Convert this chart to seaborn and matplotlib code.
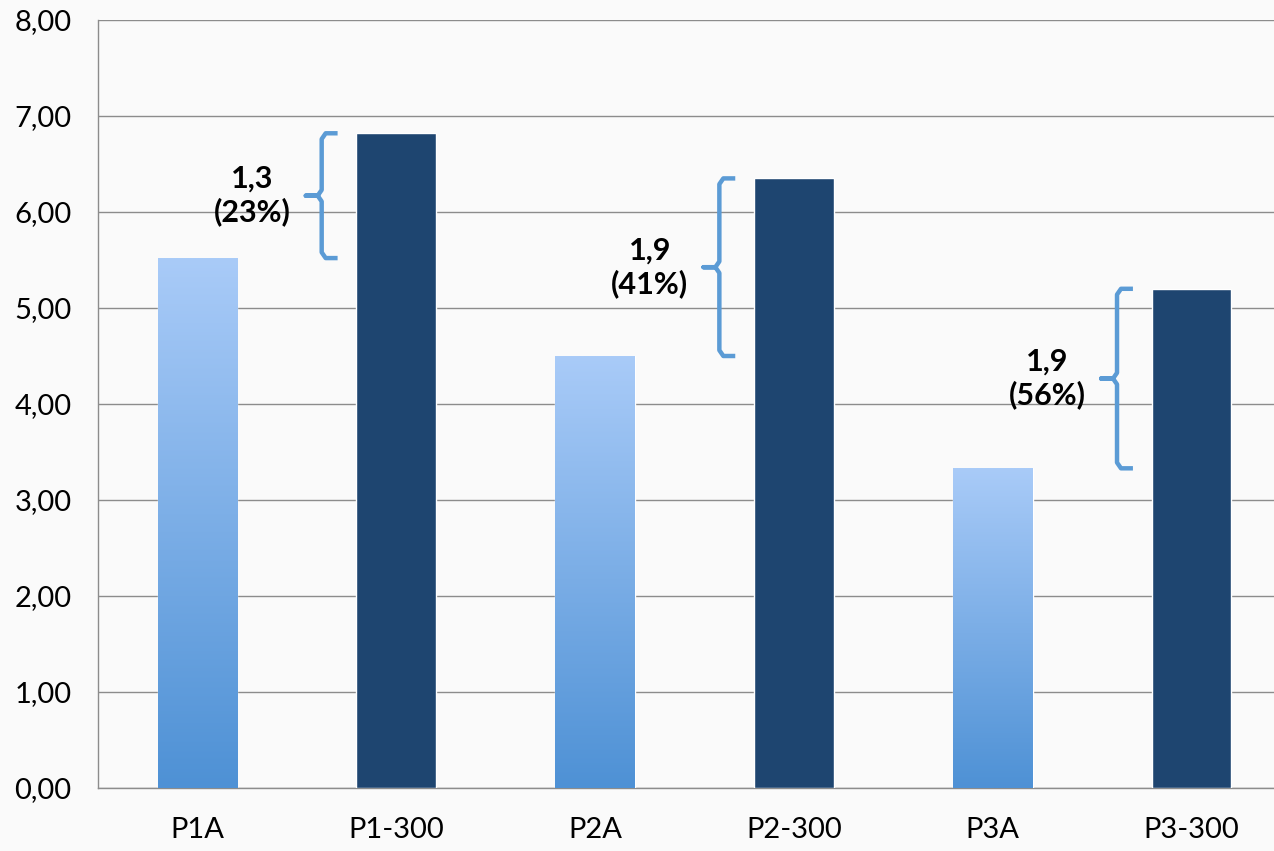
import numpy as np
import pandas as pd
import matplotlib
matplotlib.use("Agg")
import matplotlib.pyplot as plt
from matplotlib.colors import LinearSegmentedColormap
import seaborn as sns

# values
categories = ["P1A", "P1-300", "P2A", "P2-300", "P3A", "P3-300"]
values = [5.52, 6.82, 4.50, 6.35, 3.33, 5.20]
diff_labels = ["1,3\n(23%)", "1,9\n(41%)", "1,9\n(56%)"]
yticks = [0, 1, 2, 3, 4, 5, 6, 7, 8]
ytick_labels = ["0,00", "1,00", "2,00", "3,00", "4,00", "5,00", "6,00", "7,00", "8,00"]

bg = "#fafafa"
dark = "#1e4570"
grid_col = "#8c8c8c"
brace_col = "#5b9bd5"

sns.set_style("white")
plt.rcParams["font.family"] = ["Lato", "DejaVu Sans"]
plt.rcParams["text.color"] = "black"

fig = plt.figure(figsize=(12.74, 8.51), dpi=100, facecolor=bg)
ax = fig.add_axes([98 / 1274, 63 / 851, 1193 / 1274, 768 / 851])
ax.set_facecolor(bg)

df = pd.DataFrame({"cat": categories, "val": values})
palette = ["#7fb0e8" if i % 2 == 0 else dark for i in range(len(categories))]
sns.barplot(data=df, x="cat", y="val", hue="cat", palette=palette,
            width=0.4, legend=False, saturation=1, ax=ax, zorder=3)

# gradient fill for the light bars
cmap = LinearSegmentedColormap.from_list("lb", ["#4e91d5", "#a9cbf8"])
grad = np.linspace(0, 1, 256).reshape(-1, 1)
for i, p in enumerate(ax.patches):
    if i % 2 == 0:
        x0, w, h = p.get_x(), p.get_width(), p.get_height()
        p.set_facecolor("none")
        im = ax.imshow(grad, cmap=cmap, origin="lower", aspect="auto",
                       extent=[x0, x0 + w, 0, h], zorder=3)
        im.set_clip_path(p)

ax.set_xlim(-0.5, len(categories) - 0.5)
ax.set_ylim(0, 8)
ax.set_yticks(yticks)
ax.set_yticklabels(ytick_labels, fontsize=21)
ax.set_xticks(range(len(categories)))
ax.set_xticklabels(categories, fontsize=21)
ax.set_xticks(np.arange(-0.5, len(categories), 1), minor=True)
ax.tick_params(axis="x", which="major", length=0, pad=21, labelcolor="black")
ax.tick_params(axis="x", which="minor", length=8, width=1, color=grid_col)
ax.tick_params(axis="y", length=7, width=1, color=grid_col, pad=12,
               labelcolor="black")
ax.set_xlabel("")
ax.set_ylabel("")
ax.yaxis.grid(True, color=grid_col, linewidth=1, zorder=0)
ax.set_axisbelow(True)
for s in ["top", "right"]:
    ax.spines[s].set_visible(False)
for s in ["left", "bottom"]:
    ax.spines[s].set_color(grid_col)
    ax.spines[s].set_linewidth(1)

# braces showing the gain between each pair
for k in range(3):
    lo, hi = values[2 * k], values[2 * k + 1]
    xv = 2 * k + 0.625
    mid = (lo + hi) / 2
    r = 0.06
    hook = 0.08
    tip = 0.08
    xs = [xv + hook, xv + 0.02, xv, xv, xv - 0.02, xv - tip,
          xv - 0.02, xv, xv, xv + 0.02, xv + hook]
    ys = [hi, hi, hi - r, mid + 0.06, mid, mid,
          mid, mid - 0.06, lo + r, lo, lo]
    ax.plot(xs, ys, color=brace_col, linewidth=3.2, solid_joinstyle="round",
            solid_capstyle="butt", zorder=4, clip_on=False)
    ax.text(xv - tip - 0.27, mid, diff_labels[k], ha="center", va="center",
            fontsize=22, fontweight="bold", linespacing=1.2, color="black",
            zorder=5)

fig.savefig("out.png", dpi=100, facecolor=bg)
